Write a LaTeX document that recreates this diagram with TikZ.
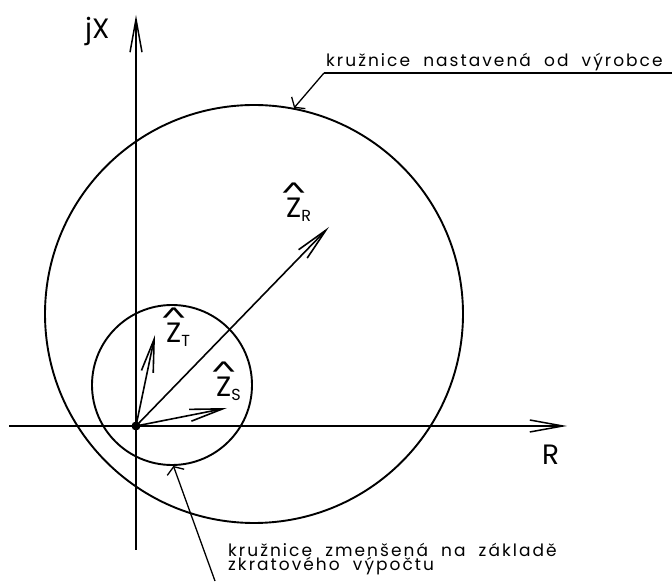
\documentclass[tikz,border=0pt]{standalone}
\usepackage{graphicx}
\usepackage{fontspec}
\setmainfont{Poppins}
\newfontfamily\notefont{Poppins}[LetterSpace=12]
\usetikzlibrary{arrows.meta,positioning,calc}
\tikzset{
	axis/.style={line width=1.5pt, -{Straight Barb[length=33pt,width=12pt,line width=1.5pt]}},
	vector/.style={line width=1.6pt, -{Straight Barb[length=33pt,width=12pt,line width=1.6pt]}},
	ring/.style={draw, circle, line width=1.9pt, inner sep=0pt},
	leader/.style={line width=1.3pt, -{Straight Barb[length=6pt,width=18pt,line width=1.3pt]}},
	axislabel/.style={font=\fontsize{28}{30}\selectfont, inner sep=0pt},
	notelabel/.style={font=\notefont\fontsize{17}{14}\selectfont, inner sep=0pt}
}
\newcommand{\zsub}[1]{\raisebox{-4pt}{\fontsize{16}{16}\selectfont #1}}
\newcommand{\hatz}{\leavevmode\setbox0\hbox{Z}\rlap{\hbox to\wd0{\hss\raisebox{21pt}{\scalebox{1.4}[0.7]{\textasciicircum}}\hss}}Z}

\begin{document}
\begin{tikzpicture}[x=1pt, y=1pt]
	\useasboundingbox (0,0) rectangle (672,581);
	
	%% -- Axes
	\coordinate (O) at (136,155);
	\coordinate (yBot) at (136,31);
	\coordinate (yTop) at (136,566);
	\coordinate (xLeft) at (9,155);
	\coordinate (xRight) at (567,155);
	\draw[axis] (yBot) -- (yTop);
	\draw[axis] (xLeft) -- (xRight);
	\node[axislabel, anchor=base west] (jx) at (85,542) {jX};
	\node[axislabel, anchor=base west] (re) at (542,116) {R};
	
	%% -- Circles
	\node[ring, minimum size=418pt] (bigc) at (254,267) {};
	\node[ring, minimum size=160pt] (smallc) at (172,196) {};
	
	%% -- Impedance vectors
	\coordinate (ZRtip) at (329,354);
	\coordinate (ZTtip) at (155,246);
	\coordinate (ZStip) at (227,173);
	\draw[vector] (O) -- (ZRtip);
	\draw[vector] (O) -- (ZTtip);
	\draw[vector] (O) -- (ZStip);
	\node[circle, fill, minimum size=9pt, inner sep=0pt] (dot) at (O) {};
	
	\node[axislabel, anchor=base west] (zR) at (286,363) {\hatz\zsub{R}};
	\node[axislabel, anchor=base west] (zT) at (166,238) {\hatz\zsub{T}};
	\node[axislabel, anchor=base west] (zS) at (216,184) {\hatz\zsub{S}};
	
	%% -- Notes with leaders
	\coordinate (capA) at (324,508);
	\coordinate (capEnd) at (672,508);
	\draw[line width=1.3pt] (capA) -- (capEnd);
	\draw[leader] (capA) -- (bigc.79.5);
	\node[notelabel, anchor=base west] (noteTop) at (326,514) {kružnice\ \ nastavená\ \ od\ \ výrobce};
	
	\coordinate (lowEnd) at (215,0);
	\draw[leader] (lowEnd) -- (smallc.-89);
	\node[notelabel, anchor=base west] (noteLowA) at (228,24) {kružnice\ \ zmenšená\ \ na\ \ základě};
	\node[notelabel, anchor=base west] (noteLowB) at ([yshift=-14pt]noteLowA.base west) {zkratového\ \ výpočtu};
	
\end{tikzpicture}
\end{document}
